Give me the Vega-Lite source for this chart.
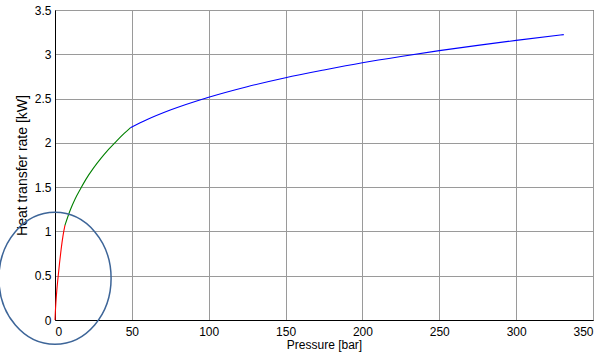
{
  "$schema": "https://vega.github.io/schema/vega-lite/v6.json",
  "width": 538,
  "height": 310,
  "autosize": {"type": "none"},
  "padding": {"left": 55, "top": 10, "right": 13, "bottom": 41},
  "background": "white",
  "config": {
    "view": {"stroke": "black", "strokeWidth": 1},
    "font": "Liberation Sans",
    "axis": {
      "gridColor": "#9a9a9a",
      "gridOpacity": 1,
      "gridWidth": 1,
      "domainColor": "black",
      "ticks": false,
      "labelColor": "black",
      "labelFontSize": 12,
      "labelFont": "Liberation Sans",
      "titleFont": "Liberation Sans",
      "titleFontSize": 12,
      "titleFontWeight": "normal",
      "titleColor": "black"
    }
  },
  "datasets": {
    "curve": [
      {"p": 0, "q": 0, "seg": "red"},
      {"p": 0.2, "q": 0.08, "seg": "red"},
      {"p": 0.6, "q": 0.2, "seg": "red"},
      {"p": 1.2, "q": 0.34, "seg": "red"},
      {"p": 2.1, "q": 0.5, "seg": "red"},
      {"p": 3.0, "q": 0.65, "seg": "red"},
      {"p": 4.0, "q": 0.8, "seg": "red"},
      {"p": 5.2, "q": 0.95, "seg": "red"},
      {"p": 6.5, "q": 1.07, "seg": "red"},
      {"p": 6.5, "q": 1.07, "seg": "green"},
      {"p": 10, "q": 1.244, "seg": "green"},
      {"p": 13, "q": 1.363, "seg": "green"},
      {"p": 16.9, "q": 1.49, "seg": "green"},
      {"p": 20, "q": 1.585, "seg": "green"},
      {"p": 25, "q": 1.714, "seg": "green"},
      {"p": 30, "q": 1.827, "seg": "green"},
      {"p": 35, "q": 1.929, "seg": "green"},
      {"p": 40, "q": 2.02, "seg": "green"},
      {"p": 45, "q": 2.106, "seg": "green"},
      {"p": 49, "q": 2.17, "seg": "green"},
      {"p": 49, "q": 2.17, "seg": "blue"},
      {"p": 60, "q": 2.263, "seg": "blue"},
      {"p": 75, "q": 2.37, "seg": "blue"},
      {"p": 100, "q": 2.515, "seg": "blue"},
      {"p": 125, "q": 2.634, "seg": "blue"},
      {"p": 150, "q": 2.736, "seg": "blue"},
      {"p": 175, "q": 2.823, "seg": "blue"},
      {"p": 200, "q": 2.904, "seg": "blue"},
      {"p": 225, "q": 2.975, "seg": "blue"},
      {"p": 250, "q": 3.041, "seg": "blue"},
      {"p": 275, "q": 3.101, "seg": "blue"},
      {"p": 300, "q": 3.157, "seg": "blue"},
      {"p": 331, "q": 3.222, "seg": "blue"}
    ],
    "marker": [{"p": 0, "q": 0.47}]
  },
  "layer": [
    {
      "data": {"name": "curve"},
      "mark": {"type": "line", "strokeWidth": 1.1, "interpolate": "monotone"},
      "encoding": {
        "x": {"field": "p", "type": "quantitative", "title": "Pressure [bar]",
              "scale": {"domain": [0, 350], "nice": false},
              "axis": {"values": [0, 50, 100, 150, 200, 250, 300, 350], "format": "d", "labelPadding": 6, "titlePadding": 2}},
        "y": {"field": "q", "type": "quantitative", "title": "Heat transfer rate [kW]",
              "scale": {"domain": [0, 3.5], "nice": false},
              "axis": {"values": [0, 0.5, 1, 1.5, 2, 2.5, 3, 3.5], "format": "~g", "labelPadding": 4, "titlePadding": 5, "titleFontSize": 14}},
        "color": {"field": "seg", "type": "nominal",
                  "scale": {"domain": ["red", "green", "blue"], "range": ["#ff0000", "#008000", "#0000ff"]},
                  "legend": null},
        "order": {"field": "p", "type": "quantitative"}
      }
    },
    {
      "data": {"name": "marker"},
      "mark": {
        "type": "point",
        "shape": "M -0.85 0 A 0.85 1 0 1 0 0.85 0 A 0.85 1 0 1 0 -0.85 0 Z",
        "size": 17424,
        "filled": false,
        "stroke": "#3d6598",
        "strokeWidth": 1.5,
        "opacity": 1,
        "clip": false
      },
      "encoding": {
        "x": {"field": "p", "type": "quantitative"},
        "y": {"field": "q", "type": "quantitative"}
      }
    }
  ]
}
